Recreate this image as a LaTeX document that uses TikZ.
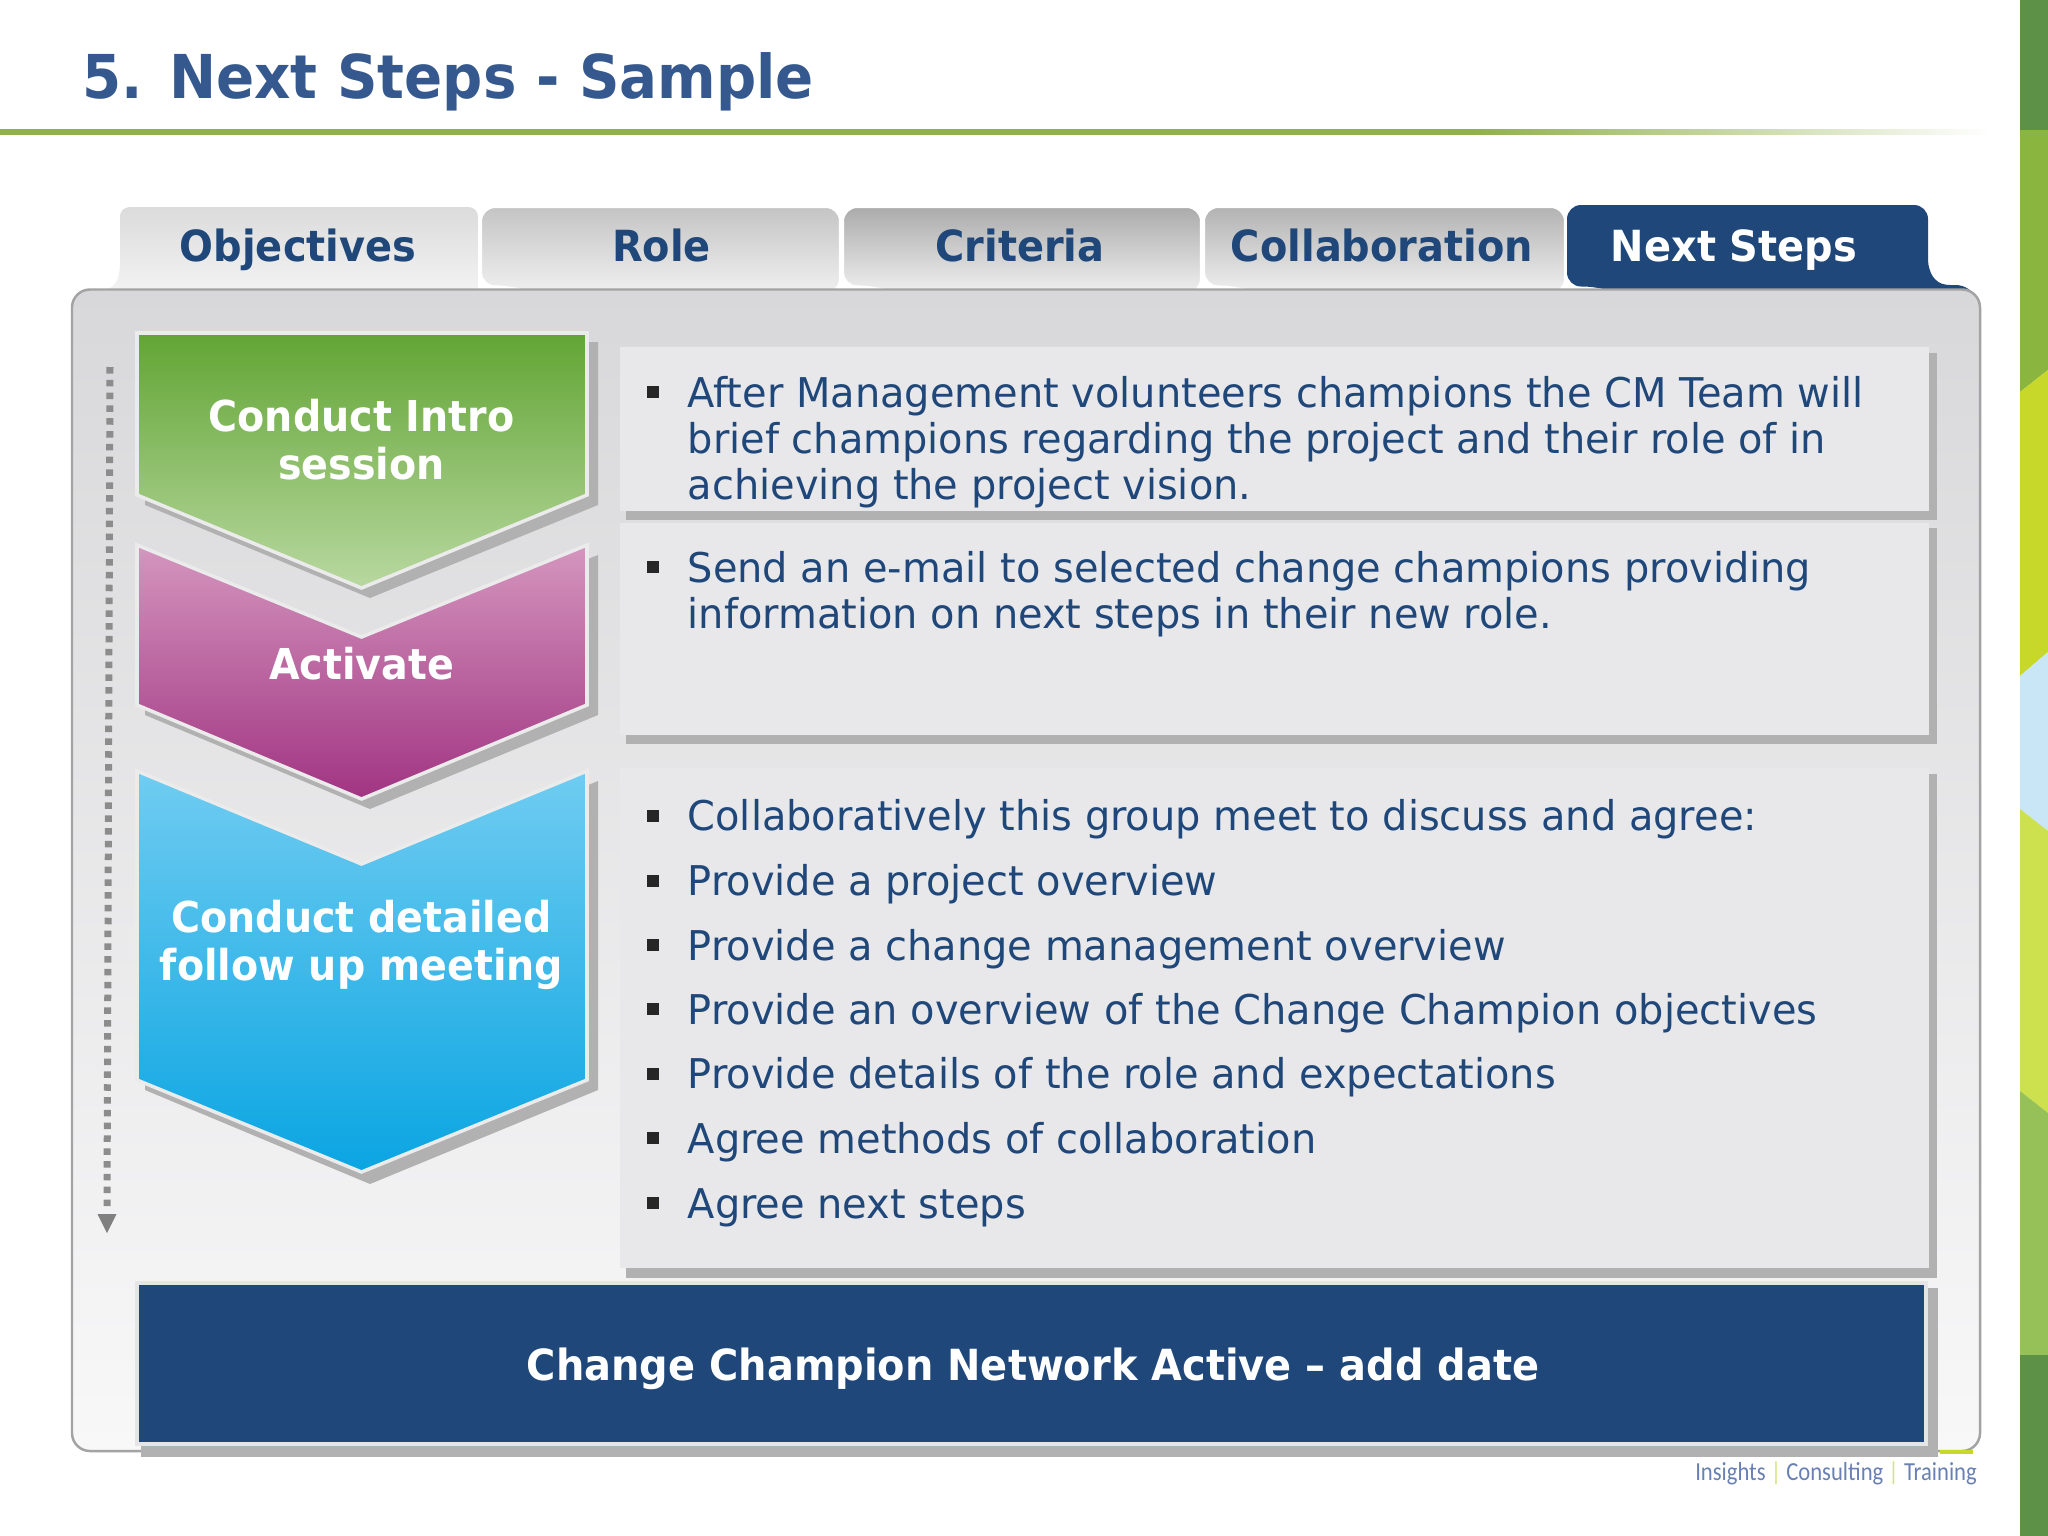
\documentclass[tikz,border=0pt]{standalone}
\usepackage{fontspec}
\setmainfont[UprightFeatures={FakeStretch=0.974},BoldFeatures={FakeStretch=0.93}]{DejaVu Sans}
\newfontfamily\logofont[FakeStretch=0.87]{Carlito}
\definecolor{navy}{HTML}{1F4779}
\definecolor{titleblue}{HTML}{35598E}
\definecolor{shadowgrey}{HTML}{B1B1B2}
\definecolor{boxgrey}{HTML}{E8E8EA}
\definecolor{edgegrey}{HTML}{A3A3A3}
\definecolor{logoblue}{HTML}{6A80B4}
\definecolor{logoyellow}{HTML}{D5E47A}
\definecolor{rulegreen}{HTML}{8FB04A}
\definecolor{stripedark}{HTML}{5C9147}
\definecolor{stripegreen}{HTML}{8AB53E}
\definecolor{stripeyellow}{HTML}{C8D82A}
\definecolor{stripeblue}{HTML}{C8E6F5}
\definecolor{stripelime}{HTML}{CDE04D}
\definecolor{stripelight}{HTML}{96C058}
\definecolor{greentop}{HTML}{62A534}
\definecolor{greenlow}{HTML}{B8D8A0}
\definecolor{pinktop}{HTML}{D496BE}
\definecolor{pinklow}{HTML}{A13482}
\definecolor{bluetop}{HTML}{70CCF1}
\definecolor{bluelow}{HTML}{0AA5E2}
\definecolor{paneltop}{HTML}{D8D8DA}
\definecolor{panelmid}{HTML}{EAEAEC}
\definecolor{panellow}{HTML}{F8F8F9}
\pgfdeclarehorizontalshading{rulefade}{100bp}{color(0bp)=(rulegreen); color(25bp)=(rulegreen); color(62bp)=(rulegreen); color(75bp)=(white); color(100bp)=(white)}
\tikzset{
  bodytext/.style={anchor=base west, align=left, text=navy, inner sep=0pt, font=\fontsize{11.65}{13}\selectfont},
  tablabel/.style={anchor=base, inner sep=0pt, text=navy, font=\fontsize{12.2}{13}\selectfont\bfseries},
  flowlabel/.style={anchor=base, align=center, inner sep=0pt, text=white, font=\fontsize{12.1}{13.65}\selectfont\bfseries},
  bulletmark/.style={fill=black!85, inner sep=0pt, minimum size=0.12cm},
  shadowfill/.style={fill=shadowgrey},
  textbox/.style={fill=boxgrey},
  chevron/.style={draw=white!92!black, line width=1pt},
  grabtab/.style={draw=white, line width=0.6pt, rounded corners=0.14cm},
}
\begin{document}
\begin{tikzpicture}[x=0.01cm,y=-0.01cm]
\useasboundingbox (0,0) rectangle (2048,1536);
\fill[white] (0,0) rectangle (2048,1536);
% side stripe
\fill[stripedark] (2020,0) rectangle (2048,130);
\fill[stripegreen] (2020,130) -- (2048,130) -- (2048,370) -- (2020,392) -- cycle;
\fill[stripeyellow] (2020,392) -- (2048,370) -- (2048,652) -- (2020,676) -- cycle;
\fill[stripeblue] (2020,676) -- (2048,652) -- (2048,831) -- (2020,809) -- cycle;
\fill[stripelime] (2020,809) -- (2048,831) -- (2048,1113) -- (2020,1091) -- cycle;
\fill[stripelight] (2020,1091) -- (2048,1113) -- (2048,1355) -- (2020,1355) -- cycle;
\fill[stripedark] (2020,1355) rectangle (2048,1536);
% title
\node(title) at (82,98) [anchor=base west, inner sep=0pt, text=titleblue, font=\fontsize{17.2}{20}\selectfont\bfseries] {5. Next Steps - Sample};
\shade[shading=rulefade] (0,129.5) rectangle (1990,134.5);
% tabs
\shade[top color=black!14, bottom color=black!5] (108,289) .. controls (118,285) and (120,275) .. (120,262) -- (120,218) .. controls (120,210) and (124,207) .. (132,207) -- (466,207) .. controls (474,207) and (478,210) .. (478,218) -- (478,289) -- cycle;
\foreach \xa/\xb/\tabtop in {481/840/23, 843/1201/33, 1204/1565/30}
  \shade[grabtab, top color=black!\tabtop, bottom color=black!6] (\xa+50,293) -- (\xa+30,286.5) -- (\xa,286.5) -- (\xa,207) -- (\xb,207) -- (\xb,293) -- cycle;
\fill[navy, rounded corners=0.14cm] (1617,293) -- (1597,286.5) -- (1567,286.5) -- (1567,205) -- (1928,205) -- (1928,293) -- cycle;
\fill[navy] (1900,295) -- (1900,262) -- (1928,262) .. controls (1930,278) and (1938,285) .. (1950,285) -- (1955,285) .. controls (1965,285) and (1972,290) .. (1978,300) -- cycle;
\node(tabobjectives) at (298,261) [tablabel] {Objectives};
\node(tabrole) at (661.5,261) [tablabel] {Role};
\node(tabcriteria) at (1020,261) [tablabel] {Criteria};
\node(tabcollab) at (1382,261) [tablabel] {Collaboration};
\node(tabnext) at (1734,261) [tablabel, text=white] {Next Steps};
% panel
\draw[edgegrey, line width=0.7pt, rounded corners=0.18cm, top color=paneltop, middle color=panelmid, bottom color=panellow] (72,289.5) rectangle (1980,1451);
\fill[stripeyellow] (1940,1450) rectangle (1973,1454);
% step arrow
\coordinate(flowtop) at (110,367);
\coordinate(flowend) at (107,1233);
\draw[black!45, line width=0.07cm, dash pattern=on 0.065cm off 0.063cm] (flowtop) -- (107,1208);
\fill[black!50] (97.5,1214) -- (116.5,1214) -- (flowend) -- cycle;
% chevrons
\fill[shadowfill] (145,342) -- (598,342) -- (598,505) -- (370,598) -- (145,505) -- cycle;
\draw[chevron, top color=greentop, bottom color=greenlow] (137,333) -- (587,333) -- (587,495) -- (361.5,588) -- (137,495) -- cycle;
\fill[shadowfill] (145,555) -- (370,647) -- (598,555) -- (598,715) -- (370,809) -- (145,715) -- cycle;
\draw[chevron, top color=pinktop, bottom color=pinklow] (137,545) -- (361.5,637) -- (587,545) -- (587,705) -- (361.5,799) -- (137,705) -- cycle;
\fill[shadowfill] (145,781) -- (370,874) -- (598,781) -- (598,1090) -- (370,1184) -- (145,1090) -- cycle;
\draw[chevron, top color=bluetop, bottom color=bluelow] (137,771) -- (361.5,864) -- (587,771) -- (587,1080) -- (361.5,1172) -- (137,1080) -- cycle;
\node(stepintro) at (361.5,479) [flowlabel] {Conduct Intro\\ session};
\node(stepactivate) at (361.5,679) [flowlabel] {Activate};
\node(stepmeeting) at (361.5,980) [flowlabel] {Conduct detailed\\ follow up meeting};
% text boxes
\fill[shadowfill] (626,353) rectangle (1937,520);
\fill[textbox] (620,347) rectangle (1929,511);
\fill[shadowfill] (626,528) rectangle (1937,744);
\fill[textbox] (620,523) rectangle (1929,735);
\fill[shadowfill] (626,774) rectangle (1937,1278);
\fill[textbox] (620,768) rectangle (1929,1268);
\node(bulleta) at (653,392) [bulletmark] {};
\node(linea) at (687,499) [bodytext] {After Management volunteers champions the CM Team will\\ brief champions regarding the project and their role of in\\ achieving the project vision.};
\node(bulletb) at (653,567) [bulletmark] {};
\node(lineb) at (687,628) [bodytext] {Send an e-mail to selected change champions providing\\ information on next steps in their new role.};
\foreach \name/\ypos/\words in {c/830.6/{Collaboratively this group meet to discuss and agree:},
  d/895.5/{Provide a project overview},
  e/960/{Provide a change management overview},
  f/1024/{Provide an overview of the Change Champion objectives},
  g/1088.5/{Provide details of the role and expectations},
  h/1153/{Agree methods of collaboration},
  i/1218/{Agree next steps}} {
  \node(bullet\name) at (653,\ypos-15) [bulletmark] {};
  \node(line\name) at (687,\ypos) [bodytext] {\words};
}
% banner
\fill[shadowfill] (141,1288) rectangle (1938,1457);
\draw[fill=navy, draw=white!90!black, line width=1pt] (137,1283) rectangle (1926,1444);
\node(banner) at (1033,1380) [flowlabel, font=\fontsize{12.2}{13.65}\selectfont\bfseries] {Change Champion Network Active -- add date};
% footer
\node(footer) at (1836,1480) [anchor=base, inner sep=0pt, text=logoblue, font=\logofont\fontsize{7.4}{9}\selectfont] {Insights {\color{logoyellow}|} Consulting {\color{logoyellow}|} Training};
\end{tikzpicture}
\end{document}
